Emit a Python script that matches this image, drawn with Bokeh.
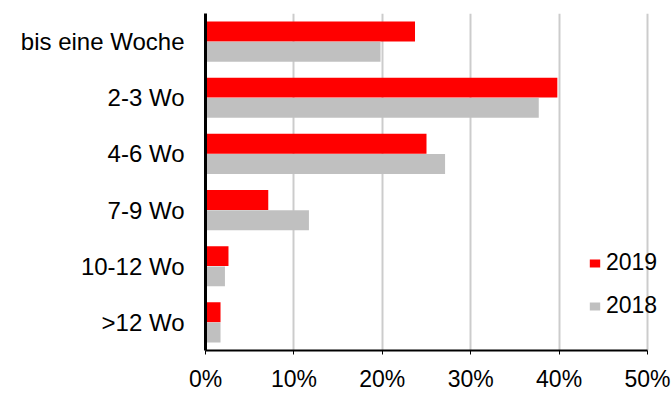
from bokeh.plotting import figure
from bokeh.models import ColumnDataSource, FactorRange, FixedTicker, PrintfTickFormatter, Legend, LegendItem
from bokeh.transform import dodge
from bokeh.embed import file_html
from bokeh.resources import INLINE

categories = ["bis eine Woche", "2-3 Wo", "4-6 Wo", "7-9 Wo", "10-12 Wo", ">12 Wo"]
values_2019 = [23.7, 39.8, 25.0, 7.1, 2.6, 1.7]
values_2018 = [19.8, 37.7, 27.1, 11.7, 2.2, 1.7]
x_ticks = [0, 10, 20, 30, 40, 50]
series_names = ["2019", "2018"]

FONT = "Liberation Sans"

src = ColumnDataSource(dict(cat=categories, v2019=values_2019, v2018=values_2018))

# frame spans 205..672; 50% sits at x=647 (442 px for 50 units)
x_end = 50 * 467 / 442

p = figure(width=672, height=394, output_backend="svg", toolbar_location=None,
           y_range=FactorRange(*reversed(categories)), x_range=(0, x_end),
           min_border_left=205, min_border_right=0, min_border_top=13, min_border_bottom=42)
p.outline_line_color = None
p.background_fill_color = "white"

r1 = p.hbar(y=dodge("cat", 0.18, range=p.y_range), right="v2019", left=0, height=0.354,
            source=src, fill_color="#ff0000", line_color=None)
r2 = p.hbar(y=dodge("cat", -0.18, range=p.y_range), right="v2018", left=0, height=0.354,
            source=src, fill_color="#c0c0c0", line_color=None)

# grid
p.ygrid.grid_line_color = None
p.xgrid.ticker = FixedTicker(ticks=x_ticks)
p.xgrid.grid_line_color = "#cccccc"
p.xgrid.grid_line_width = 2

# x axis
xa = p.xaxis[0]
xa.ticker = FixedTicker(ticks=x_ticks)
xa.bounds = (0, 50)
xa.formatter = PrintfTickFormatter(format="%d%%")
xa.axis_line_color = "black"
xa.axis_line_width = 2
xa.major_tick_line_color = "black"
xa.major_tick_out = 4
xa.major_tick_in = 0
xa.minor_tick_line_color = None
xa.major_label_text_font = FONT
xa.major_label_text_font_size = "23px"
xa.major_label_text_color = "black"
xa.major_label_standoff = 11

# y axis
ya = p.yaxis[0]
ya.axis_line_color = "black"
ya.axis_line_width = 3
ya.major_tick_line_color = None
ya.major_tick_out = 0
ya.major_tick_in = 0
ya.minor_tick_line_color = None
ya.major_label_text_font = FONT
ya.major_label_text_font_size = "24px"
ya.major_label_text_color = "black"
ya.major_label_standoff = 21

legend = Legend(items=[LegendItem(label=series_names[0], renderers=[r1]),
                       LegendItem(label=series_names[1], renderers=[r2])],
                location=(383, 31))
legend.padding = 0
legend.margin = 0
legend.border_line_color = None
legend.background_fill_alpha = 0
legend.glyph_width = 13
legend.glyph_height = 10
legend.label_height = 26
legend.spacing = 16
legend.label_standoff = 5
legend.label_text_font = FONT
legend.label_text_font_size = "23px"
legend.label_text_color = "black"
p.add_layout(legend, "center")

open("out.html", "w").write(file_html(p, INLINE))
